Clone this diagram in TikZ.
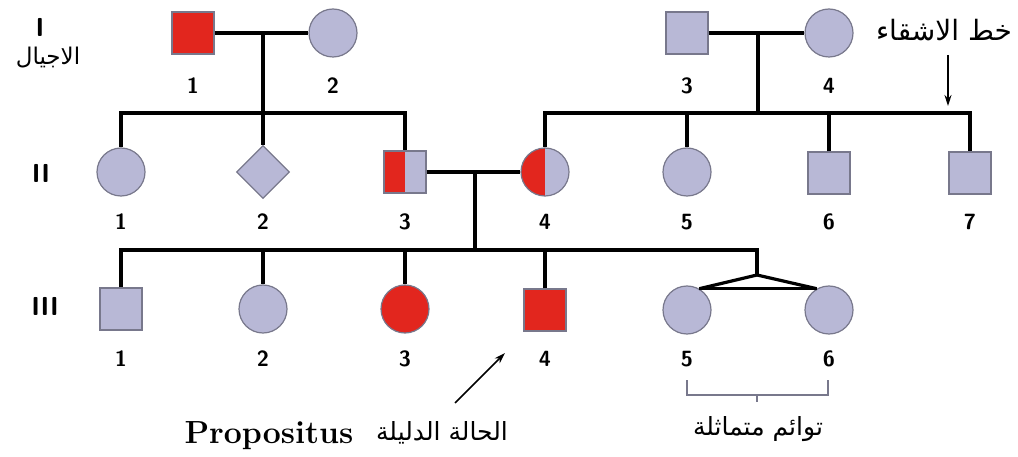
\documentclass[tikz,border=0pt]{standalone}
\usepackage{fontspec}
\usetikzlibrary{positioning,shapes.geometric,arrows.meta,calc}
\TeXXeTstate=1
\newfontfamily\arabicfont[Script=Arabic]{DejaVu Sans}
\definecolor{lav}{RGB}{184,184,214}
\definecolor{affred}{RGB}{226,38,30}
\definecolor{edge}{RGB}{120,120,140}

\begin{document}
\begin{tikzpicture}[x=1pt, y=1pt, >=Stealth, thick,
    male/.style={rectangle, draw=edge, line width=1.2pt, fill=lav, minimum size=42pt, inner sep=0pt},
    female/.style={circle, draw=edge, line width=1.2pt, fill=lav, minimum size=48pt, inner sep=0pt},
    unknown/.style={diamond, draw=edge, line width=1.2pt, fill=lav, minimum size=53pt, inner sep=0pt},
    affected/.style={fill=affred},
    carrier/.style={path picture={\fill[affred] (path picture bounding box.south west) rectangle (path picture bounding box.north);}},
    num/.style={font=\sffamily\bfseries\fontsize{22}{22}\selectfont, inner sep=0pt},
    gen/.style={font=\sffamily\bfseries\fontsize{26}{26}\selectfont, inner sep=0pt},
    ar/.style={font=\arabicfont\fontsize{25}{25}\selectfont, inner sep=0pt},
    line/.style={line width=3.2pt},
    pointer/.style={line width=1.5pt, -{Stealth[length=11pt,width=7pt]}},
    bracket/.style={draw=edge, line width=1.1pt}]
    \useasboundingbox (0,0) rectangle (1018,-457);

    % Generation I
    \node[male, affected] (I1) at (193,-33) {};
    \node[female] (I2) at (333,-33) {};
    \node[male] (I3) at (687,-33) {};
    \node[female] (I4) at (829,-33) {};

    % Generation II
    \node[female] (II1) at (121,-172) {};
    \node[unknown] (II2) at (263,-172) {};
    \node[male, carrier] (II3) at (405,-172) {};
    \node[female, carrier] (II4) at (545,-172) {};
    \node[female] (II5) at (687,-172) {};
    \node[male] (II6) at (829,-173) {};
    \node[male] (II7) at (970,-173) {};

    % Generation III
    \node[male] (III1) at (121,-309) {};
    \node[female] (III2) at (263,-309) {};
    \node[female, affected] (III3) at (405,-309) {};
    \node[male, affected] (III4) at (545,-310) {};
    \node[female] (III5) at (687,-310) {};
    \node[female] (III6) at (829,-310) {};

    % Numbers
    \node[num] (nI1) at (193,-86) {1};
    \node[num] (nI2) at (333,-86) {2};
    \node[num] (nI3) at (687,-86) {3};
    \node[num] (nI4) at (829,-86) {4};
    \foreach \k/\x in {1/121, 2/263, 3/405, 4/545, 5/687, 6/829, 7/970}
        \node[num] (nII\k) at (\x,-222) {\k};
    \foreach \k/\x in {1/121, 2/263, 3/405, 4/545, 5/687, 6/829}
        \node[num] (nIII\k) at (\x,-359) {\k};

    % Generation labels
    \node[gen] (gI) at (40,-27) {I};
    \node[ar, font=\arabicfont\fontsize{23}{23}\selectfont] (gen) at (48,-58) {\beginR الاجيال\endR};
    \node[gen] (gII) at (41,-173) {II};
    \node[gen] (gIII) at (45,-306) {III};

    % Couples and descent
    \coordinate (mL) at ($(I1)!0.5!(I2)$);
    \coordinate (mR) at ($(I3)!0.5!(I4)$);
    \coordinate (mII) at ($(II3)!0.5!(II4)$);
    \coordinate (sibL) at (263,-113);
    \coordinate (sibR) at (758,-113);
    \coordinate (sibIII) at (475,-250);
    \coordinate (twin) at (757,-275);
    \draw[line] (I1.east) -- (I2.west);
    \draw[line] (I3.east) -- (I4.west);
    \draw[line] (II3.east) -- (II4.west);
    \draw[line] (mL) -- (II2.north);
    \draw[line] (mR) -- (sibR);
    \draw[line] (mII) -- (sibIII);

    % Sibships
    \draw[line] (II1.north) |- (sibL) -| (II3.north);
    \draw[line] (II4.north) |- (sibR) -| (II7.north);
    \draw[line] (II5.north) -- (II5.north |- sibR);
    \draw[line] (II6.north) -- (II6.north |- sibR);
    \draw[line] (III1.north) |- (sibIII) -| (twin);
    \foreach \k in {2,3,4}
        \draw[line] (III\k.north) -- (III\k.north |- sibIII);

    % Identical twins
    \draw[line, line join=round] (III5.60) -- (twin) -- (III6.120);
    \draw[line] (III5.60) -- (III6.120);
    \draw[bracket] (687,-380) |- (828,-395) -- (828,-380);
    \draw[bracket] (757,-395) -- (757,-402);
    \node[ar] (twins) at (758,-429) {\beginR توائم متماثلة\endR};

    % Sibling line note
    \node[ar, font=\arabicfont\fontsize{28}{28}\selectfont] (sibtxt) at (944,-30) {\beginR خط الاشقاء\endR};
    \coordinate (sibtail) at (948,-55);
    \coordinate (sibhead) at (948,-106);
    \draw[pointer] (sibtail) -- (sibhead);

    % Propositus
    \node[font=\rmfamily\bfseries\fontsize{32}{32}\selectfont, inner sep=0pt] (prop) at (269,-436) {Propositus};
    \node[ar] (propar) at (442,-433) {\beginR الحالة الدليلة\endR};
    \coordinate (proptail) at (455,-403);
    \coordinate (prophead) at (505,-353);
    \draw[pointer] (proptail) -- (prophead);
\end{tikzpicture}
\end{document}
